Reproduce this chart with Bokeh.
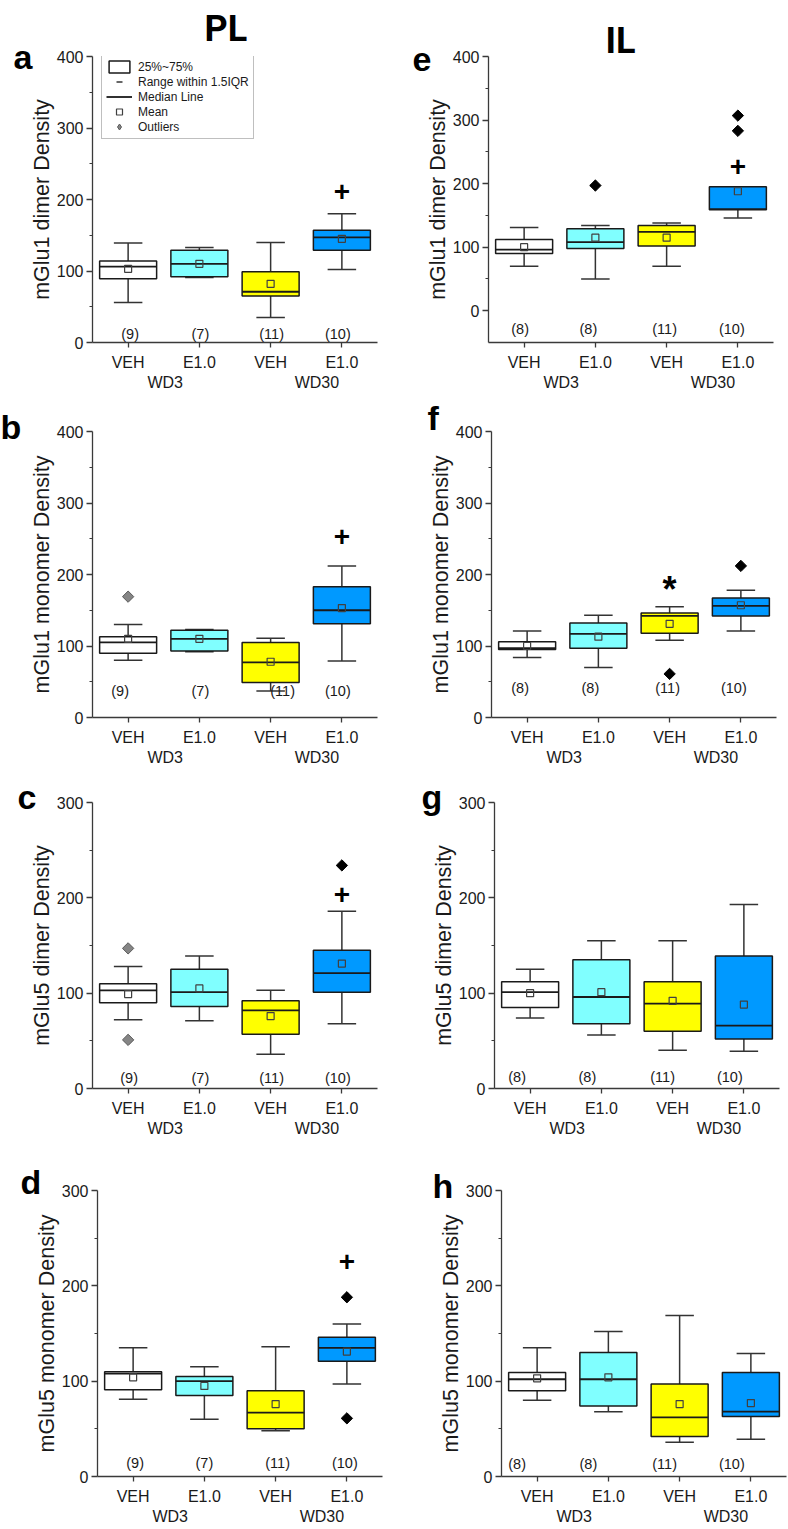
import numpy as np
from bokeh.plotting import figure
from bokeh.layouts import column, row
from bokeh.models import (Range1d, FixedTicker, ColumnDataSource, LabelSet,
                          Legend, LegendItem, LinearAxis, Title)
from bokeh.core.properties import value
from bokeh.embed import file_html
from bokeh.resources import INLINE

# ---------------- data ----------------
treatments = ["VEH", "E1.0", "VEH", "E1.0"]
withdrawal = ["WD3", "WD3", "WD30", "WD30"]
regions = ["PL", "IL"]
pl_n = [9, 7, 11, 10]
il_n = [8, 8, 11, 10]

# (a) PL mGlu1 dimer
a_low = [56, 91, 35, 102]
a_q1 = [89, 92, 65, 129]
a_med = [106, 110, 71, 147]
a_q3 = [114, 129, 99, 157]
a_high = [139, 133, 140, 180]
a_mean = [103, 110, 82, 145]
a_out_grp = []
a_out_val = []
a_out_gray = []
a_sig_grp = [4]
a_sig_val = [213]
a_sig_sym = ["+"]

# (b) PL mGlu1 monomer
b_low = [80, 92, 37, 79]
b_q1 = [90, 93, 49, 131]
b_med = [105, 110, 77, 150]
b_q3 = [113, 122, 105, 183]
b_high = [130, 123, 111, 212]
b_mean = [110, 110, 78, 153]
b_out_grp = [1]
b_out_val = [169]
b_out_gray = [1]
b_sig_grp = [4]
b_sig_val = [254]
b_sig_sym = ["+"]

# (c) PL mGlu5 dimer
c_low = [72, 71, 36, 68]
c_q1 = [90, 86, 57, 101]
c_med = [103, 101, 82, 121]
c_q3 = [110, 125, 92, 145]
c_high = [128, 139, 103, 186]
c_mean = [99, 105, 76, 131]
c_out_grp = [1, 1, 4]
c_out_val = [147, 51, 234]
c_out_gray = [1, 1, 0]
c_sig_grp = [4]
c_sig_val = [205]
c_sig_sym = ["+"]

# (d) PL mGlu5 monomer
d_low = [81, 60, 48, 97]
d_q1 = [91, 85, 50, 121]
d_med = [108, 100, 67, 135]
d_q3 = [110, 105, 90, 146]
d_high = [135, 115, 136, 160]
d_mean = [104, 95, 76, 131]
d_out_grp = [4, 4]
d_out_val = [188, 61]
d_out_gray = [0, 0]
d_sig_grp = [4]
d_sig_val = [227]
d_sig_sym = ["+"]

# (e) IL mGlu1 dimer
e_low = [70, 50, 70, 146]
e_q1 = [90, 98, 102, 159]
e_med = [96, 108, 124, 160]
e_q3 = [112, 129, 134, 195]
e_high = [131, 134, 138, 195]
e_mean = [100, 115, 115, 188]
e_out_grp = [2, 4, 4]
e_out_val = [197, 307, 283]
e_out_gray = [0, 0, 0]
e_sig_grp = [4]
e_sig_val = [228]
e_sig_sym = ["+"]

# (f) IL mGlu1 monomer
f_low = [84, 70, 108, 121]
f_q1 = [95, 97, 118, 142]
f_med = [97, 117, 142, 156]
f_q3 = [106, 132, 146, 167]
f_high = [121, 143, 155, 178]
f_mean = [100, 113, 131, 157]
f_out_grp = [3, 4]
f_out_val = [61, 212]
f_out_gray = [0, 0]
f_sig_grp = [3]
f_sig_val = [191]
f_sig_sym = ["*"]

# (g) IL mGlu5 dimer
g_low = [74, 56, 40, 39]
g_q1 = [85, 68, 60, 52]
g_med = [101, 96, 89, 66]
g_q3 = [112, 135, 112, 139]
g_high = [125, 155, 155, 193]
g_mean = [100, 101, 92, 88]
g_out_grp = []
g_out_val = []
g_out_gray = []
g_sig_grp = []
g_sig_val = []
g_sig_sym = []

# (h) IL mGlu5 monomer
h_low = [80, 68, 36, 39]
h_q1 = [90, 74, 42, 63]
h_med = [102, 102, 62, 68]
h_q3 = [109, 130, 97, 109]
h_high = [135, 152, 169, 129]
h_mean = [103, 104, 76, 77]
h_out_grp = []
h_out_val = []
h_out_gray = []
h_sig_grp = []
h_sig_val = []
h_sig_sym = []

panel_data = {
    "a": (a_low, a_q1, a_med, a_q3, a_high, a_mean, a_out_grp, a_out_val, a_out_gray, a_sig_grp, a_sig_val, a_sig_sym),
    "b": (b_low, b_q1, b_med, b_q3, b_high, b_mean, b_out_grp, b_out_val, b_out_gray, b_sig_grp, b_sig_val, b_sig_sym),
    "c": (c_low, c_q1, c_med, c_q3, c_high, c_mean, c_out_grp, c_out_val, c_out_gray, c_sig_grp, c_sig_val, c_sig_sym),
    "d": (d_low, d_q1, d_med, d_q3, d_high, d_mean, d_out_grp, d_out_val, d_out_gray, d_sig_grp, d_sig_val, d_sig_sym),
    "e": (e_low, e_q1, e_med, e_q3, e_high, e_mean, e_out_grp, e_out_val, e_out_gray, e_sig_grp, e_sig_val, e_sig_sym),
    "f": (f_low, f_q1, f_med, f_q3, f_high, f_mean, f_out_grp, f_out_val, f_out_gray, f_sig_grp, f_sig_val, f_sig_sym),
    "g": (g_low, g_q1, g_med, g_q3, g_high, g_mean, g_out_grp, g_out_val, g_out_gray, g_sig_grp, g_sig_val, g_sig_sym),
    "h": (h_low, h_q1, h_med, h_q3, h_high, h_mean, h_out_grp, h_out_val, h_out_gray, h_sig_grp, h_sig_val, h_sig_sym),
}

# ---------------- style / layout ----------------
FONT = "Liberation Sans"
HEAD_FONT = "Roboto"
TXT = "#1a1a1a"
AX = "#3a3a3a"
EDGE = "#1a1a1a"
WHISK = "#333333"
BOX_COLORS = ["#FFFFFF", "#80FFFF", "#FFFF00", "#0099FF"]
GRAY_FILL, GRAY_LINE = "#858585", "#5a5a5a"
BOX_W, CAP_W = 0.8, 0.4
FH = 286
LETTER_PX = 34
HEAD_PX = 36
HEAD_BASELINE = 41        # px from page top
SYM_SIZE = {"+": "28px", "*": "36px"}
SYM_DY = {"+": 1, "*": 9}
GROUP_DX = {"WD3": 0.02, "WD30": 0.15}   # label nudges (data units)

layout = {
    "a": dict(ylabel="mGlu1 dimer Density", yr=(0, 400), fw=285, bl=92, br=17, bt=56, bb=52,
              n_off=9, n_dx=[2, 1, 1, -4], letter=(-79, 12), n=pl_n, head=("PL", 112)),
    "e": dict(ylabel="mGlu1 dimer Density", yr=(-50, 400), fw=285, bl=94, br=15, bt=56, bb=52,
              n_off=14, n_dx=[-4, -7, -2, -6], letter=(-76, 7), n=il_n, head=("IL", 117)),
    "b": dict(ylabel="mGlu1 monomer Density", yr=(0, 400), fw=285, bl=92, br=17, bt=37, bb=52,
              n_off=27, n_dx=[-8, 1, 12, -4], letter=(-92, 7), n=pl_n),
    "f": dict(ylabel="mGlu1 monomer Density", yr=(0, 400), fw=285, bl=97, br=12, bt=37, bb=52,
              n_off=30, n_dx=[-7, -8, -2, -7], letter=(-64, -2), n=il_n),
    "c": dict(ylabel="mGlu5 dimer Density", yr=(0, 300), fw=285, bl=92, br=17, bt=33, bb=60,
              n_off=11, n_dx=[1, 1, 1, -4], letter=(-75, 6), n=pl_n),
    "g": dict(ylabel="mGlu5 dimer Density", yr=(0, 300), fw=285, bl=100, br=9, bt=33, bb=60,
              n_off=12, n_dx=[-13, -14, -10, -14], letter=(-73, 6), n=il_n),
    "d": dict(ylabel="mGlu5 monomer Density", yr=(0, 300), fw=285, bl=97, br=12, bt=42, bb=52,
              n_off=14, n_dx=[2, 0, 2, -2], letter=(-77, 3), n=pl_n),
    "h": dict(ylabel="mGlu5 monomer Density", yr=(0, 300), fw=285, bl=107, br=2, bt=42, bb=52,
              n_off=13, n_dx=[-20, -20, -15, -19], letter=(-69, 7), n=il_n),
}


def make_panel(key, with_legend=False):
    L = layout[key]
    low, q1, med, q3, high, mean, og, ov, ogray, sg, sv, ss = panel_data[key]
    ymin, ymax = L["yr"]
    p = figure(frame_width=L["fw"], frame_height=FH,
               x_range=Range1d(0.5, len(treatments) + 0.5), y_range=Range1d(ymin, ymax),
               output_backend="svg", toolbar_location=None, tools="",
               min_border_left=L["bl"], min_border_right=L["br"],
               min_border_top=L["bt"], min_border_bottom=L["bb"],
               outline_line_color=None, background_fill_color="white",
               border_fill_color="white")
    p.xgrid.visible = False
    p.ygrid.visible = False

    x = np.arange(1, len(treatments) + 1, dtype=float)
    src = ColumnDataSource(dict(
        x=x, lo=low, q1=q1, med=med, q3=q3, hi=high, mean=mean, color=BOX_COLORS,
        bl=x - BOX_W / 2, br=x + BOX_W / 2, cl=x - CAP_W / 2, cr=x + CAP_W / 2))

    wkw = dict(source=src, line_color=WHISK, line_width=1.5)
    p.segment(x0="x", y0="q3", x1="x", y1="hi", **wkw)
    p.segment(x0="x", y0="q1", x1="x", y1="lo", **wkw)
    p.segment(x0="cl", y0="hi", x1="cr", y1="hi", **wkw)
    p.segment(x0="cl", y0="lo", x1="cr", y1="lo", **wkw)
    boxes = p.vbar(x="x", width=BOX_W, bottom="q1", top="q3", source=src,
                   fill_color="color", line_color=EDGE, line_width=1.5)
    medr = p.segment(x0="bl", y0="med", x1="br", y1="med", source=src,
                     line_color=EDGE, line_width=1.8)
    meanr = p.scatter(x="x", y="mean", source=src, marker="square", size=7,
                      fill_alpha=0, line_color="#404040", line_width=1.2)

    if og:
        osrc = ColumnDataSource(dict(
            x=og, y=ov,
            fc=[GRAY_FILL if g else "#000000" for g in ogray],
            lc=[GRAY_LINE if g else "#000000" for g in ogray]))
        p.scatter(x="x", y="y", source=osrc, marker="square", angle=np.pi / 4,
                  size=8, fill_color="fc", line_color="lc", line_width=1)
    if sg:
        ssrc = ColumnDataSource(dict(x=sg, y=sv, t=ss,
                                     fs=[SYM_SIZE[s] for s in ss],
                                     dy=[SYM_DY[s] for s in ss]))
        p.text(x="x", y="y", text="t", source=ssrc, text_font=value(FONT),
               text_font_size="fs", text_font_style="bold", text_color="#000000",
               text_align="center", text_baseline="middle", y_offset="dy")

    # n labels
    nsrc = ColumnDataSource(dict(x=x, t=[f"({n})" for n in L["n"]], dx=L["n_dx"]))
    p.add_layout(LabelSet(x="x", y=L["n_off"], y_units="screen", text="t", source=nsrc,
                          x_offset="dx", text_font=value(FONT), text_font_size="14.5px",
                          text_color=TXT, text_align="center", text_baseline="middle"))

    # axes
    xax = p.xaxis[0]
    yax = p.yaxis[0]
    xax.ticker = FixedTicker(ticks=list(x))
    xax.major_label_overrides = {int(xi): t for xi, t in zip(x, treatments)}
    majors = list(range(0, ymax + 1, 100))
    minors = [m + 50 for m in majors[:-1]]
    yax.ticker = FixedTicker(ticks=majors, minor_ticks=minors)
    for ax in (xax, yax):
        ax.axis_line_color = AX
        ax.axis_line_width = 1.3
        ax.major_tick_line_color = AX
        ax.major_tick_line_width = 1.3
        ax.major_tick_in = 0
        ax.major_label_text_font = FONT
        ax.major_label_text_font_size = "16px"
        ax.major_label_text_color = TXT
    xax.major_tick_out = 5
    xax.minor_tick_line_color = None
    xax.major_label_standoff = 6
    yax.major_tick_out = 6
    yax.minor_tick_in = 0
    yax.minor_tick_out = 3
    yax.minor_tick_line_color = AX
    yax.minor_tick_line_width = 1.2
    yax.major_label_standoff = 3
    yax.axis_label = L["ylabel"]
    yax.axis_label_text_font = FONT
    yax.axis_label_text_font_size = "21.5px"
    yax.axis_label_text_font_style = "normal"
    yax.axis_label_text_color = TXT
    yax.axis_label_standoff = 0

    # group labels (WD3 / WD30) as a second, line-less axis below
    groups = list(dict.fromkeys(withdrawal))
    centers = [round(float(np.mean([xi for xi, w in zip(x, withdrawal) if w == g])) + GROUP_DX[g], 2)
               for g in groups]
    gax = LinearAxis(ticker=FixedTicker(ticks=centers),
                     major_label_overrides={c: g for c, g in zip(centers, groups)},
                     axis_line_color=None, major_tick_line_color=None,
                     minor_tick_line_color=None, major_tick_out=0, major_tick_in=0,
                     minor_tick_out=0, major_label_standoff=0,
                     major_label_text_font=FONT, major_label_text_font_size="16px",
                     major_label_text_color=TXT)
    p.add_layout(gax, "below")

    # panel letter (title placed beside the y axis, closest to the frame)
    dx, k = L["letter"]
    l_desc = 0.212 * LETTER_PX
    l_stand = -2 * (k + l_desc)
    p.add_layout(Title(text=key, align="left", offset=dx, vertical_align="bottom",
                       standoff=l_stand, text_font=FONT,
                       text_font_size=f"{LETTER_PX}px", text_font_style="bold",
                       text_color="#000000"), "above")

    # region heading (PL / IL) stacked above the letter
    if "head" in L:
        htext, hoff = L["head"]
        l_size = 2 + 1.117 * LETTER_PX + l_stand          # height of the letter's panel
        head_bottom = L["bt"] - l_size                     # bottom of heading panel (px from top)
        h_desc = 0.24 * HEAD_PX
        h_stand = 2 * (head_bottom - (HEAD_BASELINE + h_desc))
        p.add_layout(Title(text=htext, align="left", offset=hoff, vertical_align="bottom",
                           standoff=h_stand, text_font=HEAD_FONT,
                           text_font_size=f"{HEAD_PX}px", text_font_style="bold",
                           text_color="#000000"), "above")

    if with_legend:
        rng = p.scatter(x="x", y="hi", source=src, marker="dash",
                        size=10, line_color=WHISK, line_width=1.5, visible=False)
        outl = p.scatter(x="x", y="mean", source=src, marker="diamond",
                         size=8, fill_color=GRAY_FILL, line_color=GRAY_LINE, visible=False)
        items = [
            LegendItem(label="25%~75%", renderers=[boxes], index=0),
            LegendItem(label="Range within 1.5IQR", renderers=[rng], index=0),
            LegendItem(label="Median Line", renderers=[medr], index=0),
            LegendItem(label="Mean", renderers=[meanr], index=0),
            LegendItem(label="Outliers", renderers=[outl], index=0),
        ]
        leg = Legend(items=items, location=(9, FH - 83), orientation="vertical",
                     glyph_width=26, glyph_height=15, label_height=15, spacing=0,
                     padding=4, margin=0, label_standoff=6,
                     label_text_font=FONT, label_text_font_size="12px",
                     label_text_color=TXT, border_line_color="#808080",
                     border_line_width=1, background_fill_color="white",
                     background_fill_alpha=1, inactive_fill_alpha=0)
        p.add_layout(leg)
    return p


pa = make_panel("a", with_legend=True)
pe = make_panel("e")
pb = make_panel("b")
pf = make_panel("f")
pc = make_panel("c")
pg = make_panel("g")
pd_ = make_panel("d")
ph = make_panel("h")

page = column(row(pa, pe), row(pb, pf), row(pc, pg), row(pd_, ph))

with open("out.html", "w") as fh:
    fh.write(file_html(page, INLINE))
